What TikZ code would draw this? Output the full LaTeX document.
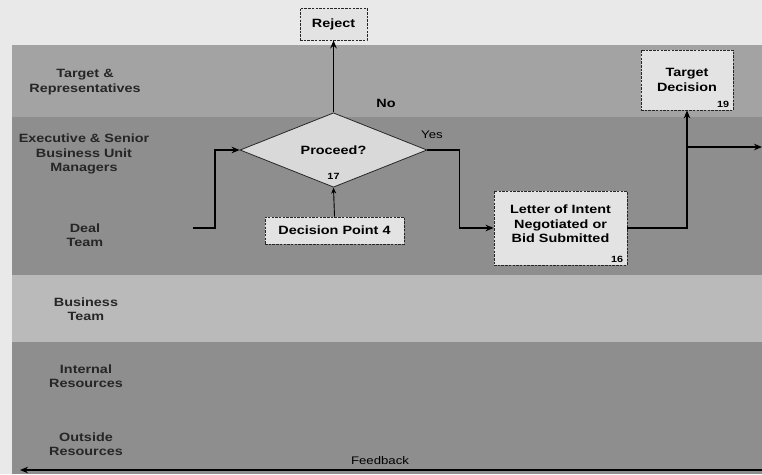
\documentclass[tikz,border=0pt]{standalone}
\usepackage{fontspec}
\setmainfont{Liberation Sans}[FakeStretch=1.2]
\usetikzlibrary{shapes.geometric,arrows.meta}

\definecolor{pagebg}{HTML}{E9E9E9}
\definecolor{laneA}{HTML}{A3A3A3}
\definecolor{laneB}{HTML}{8E8E8E}
\definecolor{laneC}{HTML}{BABABA}
\definecolor{boxfill}{HTML}{E3E3E3}
\definecolor{decfill}{HTML}{D9D9D9}

\tikzset{
  txt/.style={font=\fontsize{12}{14.5}\selectfont\bfseries, align=center, inner sep=0pt},
  lanelabel/.style={txt, text=black!85},
  procbox/.style={txt, draw=black!85, dashed, dash pattern=on 2.5pt off 1.2pt,
                  line width=0.8pt, fill=boxfill},
  decision/.style={txt, diamond, draw=black!85, line width=0.8pt, fill=decfill,
                   minimum width=187pt, minimum height=66pt},
  num/.style={font=\fontsize{9}{10}\selectfont\bfseries, inner sep=0pt},
  note/.style={font=\fontsize{11}{13}\selectfont, inner sep=0pt},
  flow/.style={line width=1.6pt, -{Stealth[length=8pt,width=6.5pt]}},
  thinflow/.style={line width=0.9pt, -{Stealth[length=6pt,width=5pt]}},
}

\begin{document}
\begin{tikzpicture}[x=1pt,y=-1pt]
  % page and swim lanes
  \fill[pagebg] (0,0) rectangle (762,474);
  \useasboundingbox (0,0) rectangle (762,474);
  \fill[laneA] (12,45)  rectangle (762,117);
  \fill[laneB] (12,117) rectangle (762,275);
  \fill[laneC] (12,275) rectangle (762,342);
  \fill[laneB] (12,342) rectangle (762,474);

  % lane titles
  \node[lanelabel] (l1) at (85,82)  {Target \&\\Representatives};
  \node[lanelabel] (l2) at (84,154) {Executive \& Senior\\Business Unit\\Managers};
  \node[lanelabel] (l3) at (85,235) {Deal\\Team};
  \node[lanelabel] (l4) at (86,309) {Business\\Team};
  \node[lanelabel] (l5) at (86,376) {Internal\\Resources};
  \node[lanelabel] (l6) at (86,444) {Outside\\Resources};

  % process steps
  \node[procbox, minimum width=67pt, minimum height=32pt] (reject) at (333.5,24) {Reject};
  \node[decision] (dia) at (333.5,150) {Proceed?};
  \node[num] (n17) at (333.5,176) {17};
  \node[procbox, minimum width=139pt, minimum height=27pt] (dp4) at (334.5,230.5) {Decision Point 4};
  \node[procbox, minimum width=133pt, minimum height=74pt] (letter) at (560.5,228)
       {Letter of Intent\\Negotiated or\\Bid Submitted\\[-6.5pt]\mbox{}};
  \node[num, anchor=south east] (n16) at ([xshift=-4pt,yshift=3pt]letter.south east) {16};
  \node[procbox, minimum width=92pt, minimum height=60pt] (td) at (687,80)
       {Target\\Decision};
  \node[num, anchor=south east] (n19) at ([xshift=-4pt,yshift=3pt]td.south east) {19};

  % free ends
  \coordinate (start) at (193,228);
  \coordinate (lvl)   at (0,147);
  \coordinate (exit)  at (762,147);
  \coordinate (fbR)   at (762,470);
  \coordinate (fbL)   at (20,470);

  % connectors
  \draw[flow] (start) -- ++(22,0) |- (dia.west);
  \draw[flow] (dia.north) -- (reject.south);
  \draw[thinflow] (dp4.north) -- (dia.south);
  \draw[flow] (dia.east) -- ++(32,0) |- (letter.west);
  \draw[flow] (letter.east) -| (td.south);
  \draw[flow] (td.south |- lvl) -- (exit);
  \draw[flow] (fbR) -- (fbL);

  % branch and feedback labels
  \node[txt] (no)  at (386,103) {No};
  \node[note] (yes) at (432,135) {Yes};
  \node[note] (fb)  at (380,461) {Feedback};
\end{tikzpicture}
\end{document}
